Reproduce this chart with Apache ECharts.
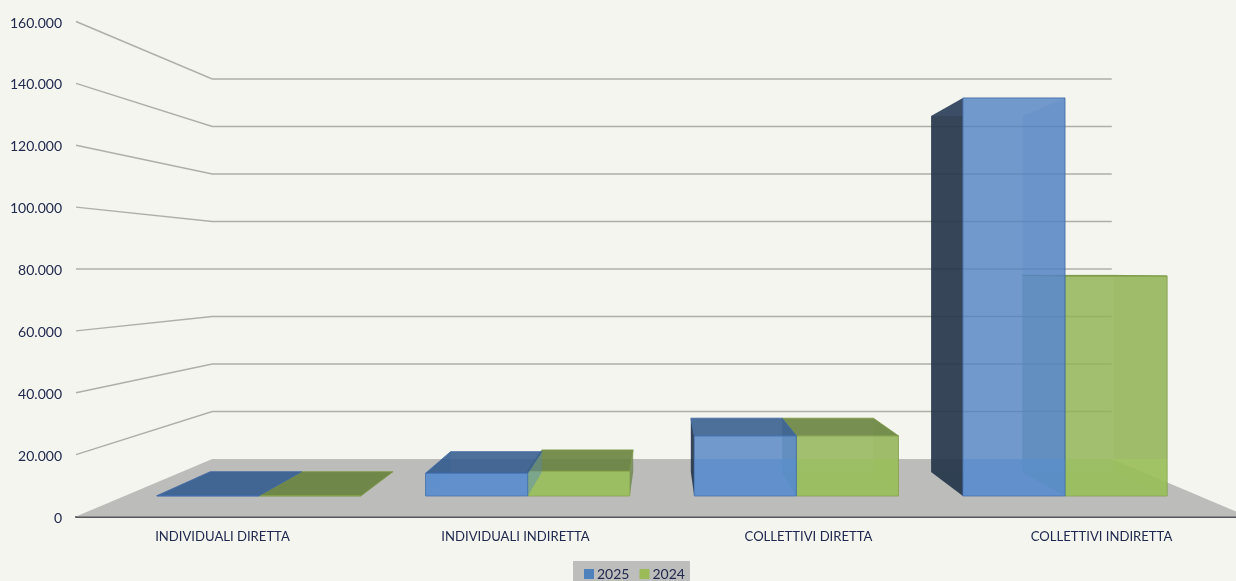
<!DOCTYPE html>
<html lang="it">
<head>
  <meta charset="UTF-8">
  <title>Individuali e collettivi, 2025 e 2024</title>
  <script src="https://cdn.jsdelivr.net/npm/echarts@6/dist/echarts.min.js"></script>
  <style>
    * { margin: 0; padding: 0; }
    html, body { width: 100%; height: 100%; background: #f4f5ee; overflow: hidden; }
    #chartbox { width: 1236px; height: 581px; }
  </style>
</head>
<body>
<div id="chartbox"></div>
<script>
  const categories = ['INDIVIDUALI DIRETTA', 'INDIVIDUALI INDIRETTA', 'COLLETTIVI DIRETTA', 'COLLETTIVI INDIRETTA'];
  const values2025 = [100, 8000, 21200, 140300];
  const values2024 = [100, 8700, 21200, 77500];
  const yTicks = [20000, 40000, 60000, 80000, 100000, 120000, 140000, 160000];

  // the grid is the front plane of the 3D box, it runs past the right edge of the window
  const grid = { left: 76, top: 21.5, width: 1172, height: 495, outerBoundsMode: 'none' };
  const vanishX = grid.left + grid.width / 2;
  const vanishY = grid.top + grid.height / 2;

  // depth is a scale towards the vanishing point
  const wallDepth = 0.7675;
  const barFront = 0.917;
  const barBack = 0.82;
  const barShare = 0.38; // each bar, as a share of the category band

  const blue = {
    base: '#4f81bd',
    back: 'rgba(79,129,189,0.12)', floor: 'rgba(79,129,189,0.2)',
    outer: 'rgba(36,52,72,0.9)', inner: 'rgba(90,140,195,0.3)',
    top: 'rgba(44,86,138,0.82)', front: 'rgba(79,129,195,0.76)',
    tint: 'rgba(90,155,235,0.28)', edge: '#3f68a6'
  };
  const green = {
    base: '#9bbb59',
    back: 'rgba(125,150,80,0.12)', floor: 'rgba(125,150,80,0.2)',
    outer: 'rgba(90,120,55,0.6)', inner: 'rgba(125,155,80,0.3)',
    top: 'rgba(100,128,58,0.85)', front: 'rgba(145,180,85,0.8)',
    tint: 'rgba(170,215,95,0.28)', edge: '#7f9b48'
  };

  function toDepth(point, depth) {
    return [vanishX + (point[0] - vanishX) * depth, vanishY + (point[1] - vanishY) * depth];
  }

  function face(points, fill, stroke) {
    return {
      type: 'polygon',
      shape: { points: points },
      style: { fill: fill, stroke: stroke || 'none', lineWidth: stroke ? 0.8 : 0 },
      silent: true
    };
  }

  function renderGridline(params, api) {
    let val = api.value(0);
    let y = api.coord([0, val])[1];
    let start = [grid.left, y];
    let corner = toDepth(start, wallDepth);
    let end = toDepth([grid.left + grid.width, y], wallDepth);
    return {
      type: 'polyline',
      shape: { points: [start, corner, end] },
      style: { fill: 'none', stroke: '#aeafa9', lineWidth: 1.5 },
      silent: true
    };
  }

  function renderFloor(params, api) {
    let y = api.coord([0, api.value(0)])[1];
    let l = [grid.left, y];
    let r = [grid.left + grid.width, y];
    return face([l, r, toDepth(r, wallDepth), toDepth(l, wallDepth)], '#bcbcba');
  }

  // side = 0 draws the bar left of the category centre, side = 1 right of it
  function renderBar(side, colors) {
    return function (params, api) {
      let cat = api.value(0);
      let val = api.value(1);
      let band = api.size([1, 0])[0];
      let center = api.coord([cat, 0])[0];
      let x0 = center + (side - 1) * barShare * band;
      let x1 = x0 + barShare * band;
      let y0 = api.coord([cat, 0])[1];
      let y1 = api.coord([cat, val])[1];

      let fbl = toDepth([x0, y0], barFront), fbr = toDepth([x1, y0], barFront);
      let ftl = toDepth([x0, y1], barFront), ftr = toDepth([x1, y1], barFront);
      let bbl = toDepth([x0, y0], barBack), bbr = toDepth([x1, y0], barBack);
      let btl = toDepth([x0, y1], barBack), btr = toDepth([x1, y1], barBack);

      // sides and top only look dark when they face the viewer, the inner side of a pair never does
      let leftFill = side === 0 && x0 > vanishX ? colors.outer : colors.inner;
      let rightFill = side === 1 && x1 < vanishX ? colors.outer : colors.inner;
      let topSeen = y1 > vanishY;

      let children = [
        face([bbl, bbr, btr, btl], colors.back),
        face([fbl, fbr, bbr, bbl], colors.floor),
        face([fbr, ftr, btr, bbr], rightFill),
        face([fbl, ftl, btl, bbl], leftFill),
        face([ftl, ftr, btr, btl], topSeen ? colors.top : colors.back, topSeen ? colors.edge : null),
        face([fbl, fbr, ftr, ftl], colors.front, colors.edge)
      ];

      // the floor shows up lighter through the front of the bar
      let floorBack = toDepth([x0, y0], wallDepth)[1];
      let tintTop = Math.max(floorBack, ftl[1]);
      if (tintTop < fbl[1]) {
        children.push(face([fbl, fbr, [fbr[0], tintTop], [fbl[0], tintTop]], colors.tint));
      }
      return { type: 'group', children: children };
    };
  }

  let myChart = echarts.init(document.getElementById('chartbox'));

  let option = {
    animation: false,
    backgroundColor: '#f4f5ee',
    textStyle: { fontFamily: 'Lato' },
    grid: grid,
    legend: {
      left: 573,
      top: 561,
      data: ['2025', '2024'],
      icon: 'rect',
      itemWidth: 10,
      itemHeight: 10,
      itemGap: 10,
      padding: [6, 5, 0, 11],
      backgroundColor: '#bdbdbb',
      textStyle: { color: '#20294f', fontSize: 14, fontFamily: 'Lato', padding: [0, 0, 0, -2] }
    },
    xAxis: {
      type: 'category',
      data: categories,
      axisTick: { show: false },
      axisLine: { lineStyle: { color: '#55565a', width: 2 } },
      axisLabel: { color: '#20294f', fontSize: 13.1, fontFamily: 'Lato', margin: 14 }
    },
    yAxis: {
      type: 'value',
      min: 0,
      max: 160000,
      interval: 20000,
      splitLine: { show: false },
      axisTick: { show: false },
      axisLine: { show: false },
      axisLabel: {
        color: '#20294f',
        fontSize: 14,
        fontFamily: 'Lato',
        margin: 14,
        // labels sit a bit under their tick in the original
        verticalAlign: 'top',
        lineHeight: 3,
        formatter: function (v) {
          return String(v).replace(/\B(?=(\d{3})+$)/g, '.');
        }
      }
    },
    series: [
      {
        name: 'floor', type: 'custom', z: 1, silent: true,
        renderItem: renderFloor, encode: { y: 0 },
        data: [[0]]
      },
      {
        name: 'gridlines', type: 'custom', z: 2, silent: true,
        renderItem: renderGridline, encode: { y: 0 },
        data: yTicks.map(function (v) { return [v]; })
      },
      {
        name: '2024', type: 'custom', z: 3, silent: true,
        itemStyle: { color: green.base },
        renderItem: renderBar(1, green), encode: { x: 0, y: 1 },
        data: values2024.map(function (v, i) { return [i, v]; })
      },
      {
        name: '2025', type: 'custom', z: 4, silent: true,
        itemStyle: { color: blue.base },
        renderItem: renderBar(0, blue), encode: { x: 0, y: 1 },
        data: values2025.map(function (v, i) { return [i, v]; })
      }
    ]
  };
  myChart.setOption(option);
</script>
</body>
</html>
